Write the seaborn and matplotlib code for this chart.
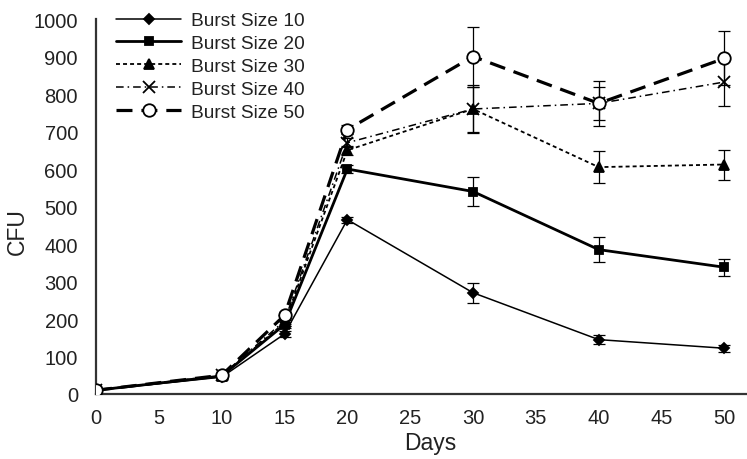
import matplotlib
matplotlib.use("Agg")
import matplotlib.pyplot as plt
import seaborn as sns
import numpy as np

# Sampling days and colony-forming units for each burst size
days = [0, 10, 15, 20, 30, 40, 50]
labels = ["Burst Size 10", "Burst Size 20", "Burst Size 30", "Burst Size 40", "Burst Size 50"]

cfu_10 = [10, 45, 160, 465, 270, 145, 122]
cfu_20 = [10, 48, 185, 600, 540, 385, 338]
cfu_30 = [10, 48, 190, 650, 760, 605, 612]
cfu_40 = [10, 50, 195, 670, 760, 775, 832]
cfu_50 = [10, 50, 210, 705, 900, 775, 895]

err_10 = [3, 5, 8, 8, 27, 12, 10]
err_20 = [3, 5, 8, 10, 38, 33, 22]
err_30 = [3, 5, 8, 12, 60, 42, 40]
err_40 = [3, 5, 8, 12, 65, 45, 65]
err_50 = [3, 5, 10, 12, 80, 60, 72]

x_ticks = [0, 5, 10, 15, 20, 25, 30, 35, 40, 45, 50]
y_ticks = [0, 100, 200, 300, 400, 500, 600, 700, 800, 900, 1000]

sns.set_style("white")
plt.rcParams["font.family"] = ["Liberation Sans", "DejaVu Sans"]

fig = plt.figure(figsize=(7.47, 4.60), dpi=100)
ax = fig.add_axes([96 / 747, 1 - 395 / 460, 1 - 96 / 747, (395 - 20) / 460])

series = [
    # values, errors, marker, marker size, face colour, line width, dash pattern
    (cfu_10, err_10, "D", 5, "black", 1.1, (None, None)),
    (cfu_20, err_20, "s", 6, "black", 2.0, (None, None)),
    (cfu_30, err_30, "^", 7, "black", 1.3, (0, (2.2, 1.7))),
    (cfu_40, err_40, "x", 9, "black", 1.1, (0, (5.0, 2.6, 1.0, 2.6))),
    (cfu_50, err_50, "o", 9, "white", 2.3, (0, (5.0, 2.8))),
]

for (vals, errs, mk, ms, fc, lw, dash), lab in zip(series, labels):
    ax.errorbar(days, vals, yerr=errs, fmt="none", ecolor="black",
                elinewidth=0.9, capsize=4.5, capthick=0.9, zorder=2)
    ls = "-" if dash == (None, None) else dash
    sns.lineplot(x=days, y=vals, ax=ax, color="black", linewidth=lw,
                 linestyle=ls, marker=mk, markersize=ms,
                 markerfacecolor=fc, markeredgecolor="black",
                 markeredgewidth=1.3, label=lab, zorder=3)

ax.set_xlim(0, 51.8)
ax.set_ylim(0, 1000)
ax.set_xticks(x_ticks)
ax.set_yticks(y_ticks)
ax.tick_params(axis="both", length=0, labelsize=14.5, colors="#222222")
ax.tick_params(axis="y", pad=13)
ax.tick_params(axis="x", pad=10)

for side in ["top", "right"]:
    ax.spines[side].set_visible(False)
for side in ["left", "bottom"]:
    ax.spines[side].set_color("#333333")
    ax.spines[side].set_linewidth(1.6)

ax.set_xlabel("Days", fontsize=16.5, color="#222222")
ax.set_ylabel("CFU", fontsize=16.5, color="#222222")
ax.xaxis.set_label_coords((430 - 96) / 651, -0.1)
ax.yaxis.set_label_coords(-0.103, 0.435)

leg = ax.legend(loc="upper left", bbox_to_anchor=(116 / 747, 1 - 13 / 460),
                bbox_transform=fig.transFigure, frameon=False, fontsize=13.8,
                handlelength=3.4, handletextpad=0.5, labelspacing=0.28,
                borderpad=0, borderaxespad=0)
for txt in leg.get_texts():
    txt.set_color("#222222")

fig.savefig("out.png", dpi=100, facecolor="white")
